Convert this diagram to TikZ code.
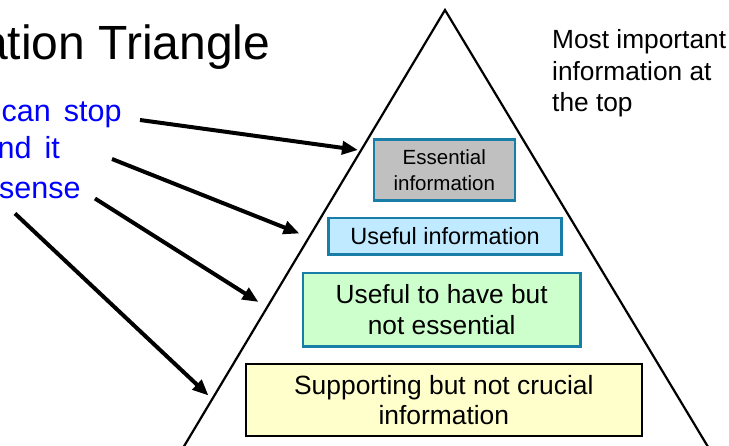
\documentclass[tikz,border=0pt]{standalone}
\usepackage{fontspec}
\setmainfont{Liberation Sans}
\usetikzlibrary{arrows.meta}
\definecolor{boxedge}{RGB}{24,126,168}
\definecolor{grayfill}{RGB}{192,192,192}
\definecolor{bluefill}{RGB}{191,234,255}
\definecolor{greenfill}{RGB}{204,255,204}
\definecolor{yellowfill}{RGB}{255,255,204}
\definecolor{textblue}{RGB}{0,0,255}
\tikzset{
  layer/.style={draw=boxedge, line width=2.5pt, inner sep=0pt, align=center, text=black},
  freetext/.style={inner sep=0pt, anchor=base west},
  bluetext/.style={freetext, text=textblue, font=\fontsize{30.5}{38}\selectfont},
  pointer/.style={line width=4pt, -{Triangle[length=16pt,width=13pt]}},
}
\begin{document}
\begin{tikzpicture}[x=1pt,y=-1pt]
\useasboundingbox (0,0) rectangle (729,446);
% triangle
\coordinate (apex) at (445,10);
\coordinate (bl) at (178.2,456);
\coordinate (br) at (713.5,456);
\draw[line width=2.2pt, line join=miter] (bl) -- (apex) -- (br);
% title
\node[inner sep=0pt, anchor=base east, font=\fontsize{48}{58}\selectfont] (title) at (270.5,59.3) {ation Triangle};
% blue text
\node[bluetext] (b1) at (1.5,121.7) {can\hspace{13pt}stop};
\node[bluetext] (b2) at (-19.5,159) {and\hspace{13pt}it};
\node[bluetext] (b3) at (-1,198.5) {sense};
% right text
\node[freetext, font=\fontsize{26.3}{32}\selectfont] (r1) at (552,48.3) {Most important};
\node[freetext, font=\fontsize{26.3}{32}\selectfont] (r2) at (552,80.5) {information at};
\node[freetext, font=\fontsize{26.3}{32}\selectfont] (r3) at (552,111.5) {the top};
% boxes
\node[layer, fill=grayfill, minimum width=141pt, minimum height=61pt,
      font=\fontsize{20.5}{25.7}\selectfont] (ess) at (444.3,169.9) {Essential\\information};
\node[layer, fill=bluefill, minimum width=233pt, minimum height=36.5pt,
      font=\fontsize{23.5}{28}\selectfont] (use) at (445,236.2) {Useful information};
\node[layer, fill=greenfill, minimum width=277.5pt, minimum height=73.5pt,
      font=\fontsize{26.3}{31.7}\selectfont] (have) at (441.7,309.7) {Useful to have but\\not essential};
\node[layer, draw=black, fill=yellowfill, minimum width=396pt, minimum height=72pt,
      font=\fontsize{26.4}{30}\selectfont] (supp) at (443.8,400) {Supporting but not crucial\\information};
% arrows
\coordinate (s1) at (140,120);
\coordinate (t1) at (358,150);
\coordinate (s2) at (112,159);
\coordinate (t2) at (299.5,233.5);
\coordinate (s3) at (95,198.5);
\coordinate (t3) at (258.5,302);
\coordinate (s4) at (15,213.5);
\coordinate (t4) at (208.5,395.5);
\draw[pointer] (s1) -- (t1);
\draw[pointer] (s2) -- (t2);
\draw[pointer] (s3) -- (t3);
\draw[pointer] (s4) -- (t4);
\end{tikzpicture}
\end{document}
